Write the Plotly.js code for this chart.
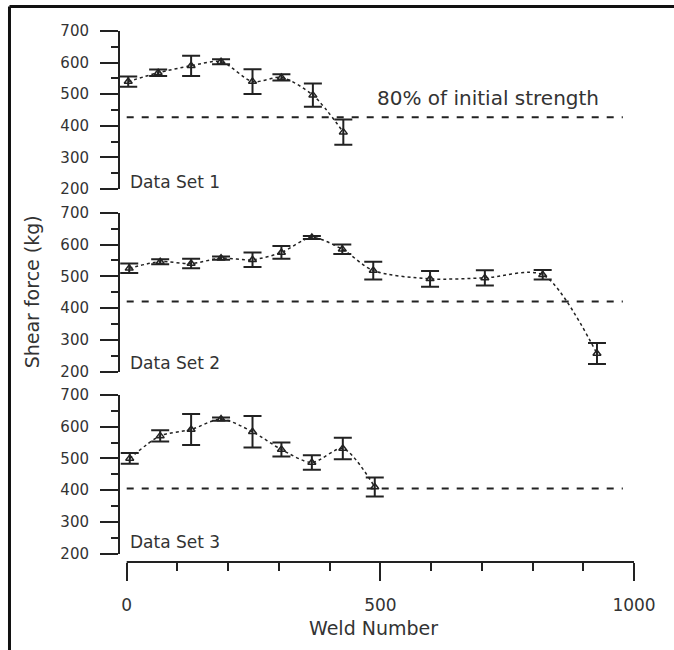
<!DOCTYPE html>
<html>
<head>
<meta charset="utf-8">
<script src="https://cdn.plot.ly/plotly-3.0.1.min.js"></script>
<style>html,body{margin:0;padding:0;background:#fff;}#chart{width:674px;height:650px;}</style>
</head>
<body>
<div id="chart"></div>
<script>
// Data Set 1
const x1 = [3, 62, 127, 186, 248, 305, 367, 427];
const y1 = [540, 568, 590, 603, 540, 553, 497, 380];
const e1 = [16, 10, 32, 8, 39, 10, 37, 40];
// Data Set 2
const x2 = [5, 66, 127, 186, 248, 305, 365, 425, 486, 598, 706, 820, 927];
const y2 = [525, 546, 540, 557, 552, 575, 622, 585, 518, 492, 495, 505, 257];
const e2 = [15, 8, 15, 5, 23, 20, 5, 15, 28, 25, 24, 15, 33];
// Data Set 3
const x3 = [6, 66, 127, 186, 248, 305, 365, 426, 489];
const y3 = [500, 571, 591, 624, 584, 528, 487, 531, 410];
const e3 = [17, 18, 49, 5, 50, 22, 23, 34, 30];
// 80% of initial strength thresholds
const thrX = [0, 978];
const thr = [427, 421, 405];
const setNames = ["Data Set 1", "Data Set 2", "Data Set 3"];
const yTicks = [200, 300, 400, 500, 600, 700];
const xTicks = [0, 500, 1000];

const FONT = "DejaVu Sans, Verdana, sans-serif";
const sets = [[x1, y1, e1], [x2, y2, e2], [x3, y3, e3]];
const yrefs = ["y", "y2", "y3"];
const traces = [];
sets.forEach((s, i) => {
  traces.push({
    x: s[0], y: s[1], xaxis: "x", yaxis: yrefs[i], type: "scatter", mode: "lines+markers",
    line: {shape: "spline", smoothing: 0.8, dash: "dot", width: 1.5, color: "#222"},
    marker: {symbol: "triangle-up-open", size: 7, color: "#222", line: {width: 1.5, color: "#222"}},
    error_y: {type: "data", array: s[2], visible: true, color: "#222", thickness: 2, width: 9},
    hoverinfo: "skip", showlegend: false
  });
  traces.push({
    x: thrX, y: [thr[i], thr[i]], xaxis: "x", yaxis: yrefs[i], type: "scatter", mode: "lines",
    line: {dash: "7px,8px", width: 2, color: "#222"}, hoverinfo: "skip", showlegend: false
  });
});

function yax(domain) {
  return {
    domain: domain, range: [200, 700], anchor: "x",
    tickvals: yTicks, ticktext: yTicks.map(String),
    ticks: "outside", ticklen: 18, tickwidth: 2, tickcolor: "#222",
    minor: {dtick: 50, tick0: 200, ticks: "outside", ticklen: 7, tickwidth: 2, tickcolor: "#222"},
    showline: true, linewidth: 2, linecolor: "#222",
    showgrid: false, zeroline: false, fixedrange: true,
    tickfont: {family: FONT, size: 15, color: "#333"}, ticklabelstandoff: 8
  };
}

const layout = {
  width: 674, height: 650,
  margin: {l: 120, r: 40, t: 31, b: 88},
  paper_bgcolor: "#fff", plot_bgcolor: "#fff",
  showlegend: false,
  xaxis: {
    domain: [0, 1], range: [-13.2, 1000], anchor: "free", position: 0,
    tickvals: xTicks, ticktext: xTicks.map(String),
    ticks: "outside", ticklen: 18, tickwidth: 2, tickcolor: "#222",
    minor: {dtick: 100, tick0: 0, ticks: "outside", ticklen: 8, tickwidth: 2, tickcolor: "#222"},
    showline: false, showgrid: false, zeroline: false, fixedrange: true,
    tickfont: {family: FONT, size: 17, color: "#333"}, ticklabelstandoff: 10
  },
  yaxis: yax([0.7024, 1.0]),
  yaxis2: yax([0.3584, 0.6578]),
  yaxis3: yax([0.0160, 0.3145]),
  shapes: [
    {type: "line", xref: "x", yref: "paper", x0: 0, x1: 1000, y0: 0, y1: 0, line: {color: "#222", width: 2}},
    {type: "line", xref: "paper", yref: "paper", x0: -0.2150, x1: -0.2150, y0: 1.046, y1: -0.2, line: {color: "#111", width: 3}},
    {type: "line", xref: "paper", yref: "paper", x0: -0.2150, x1: 1.2, y0: 1.046, y1: 1.046, line: {color: "#111", width: 3}}
  ],
  annotations: [
    {text: "80% of initial strength", x: 489, y: 488, xref: "x", yref: "y", xanchor: "left", yanchor: "middle",
     showarrow: false, font: {family: FONT, size: 20, color: "#333"}},
    {text: "Shear force (kg)", xref: "paper", yref: "paper", x: -0.171, y: 0.508, textangle: -90,
     xanchor: "center", yanchor: "middle",
     showarrow: false, font: {family: FONT, size: 19, color: "#333"}},
    {text: "Weld Number", xref: "x", yref: "paper", x: 486, y: -0.124, xanchor: "center", yanchor: "middle",
     showarrow: false, font: {family: FONT, size: 19, color: "#333"}}
  ].concat(setNames.map((t, i) => ({
    text: t, x: 3, y: [222, 227, 237][i], xref: "x", yref: yrefs[i], xanchor: "left", yanchor: "middle",
    showarrow: false, font: {family: FONT, size: 17, color: "#333"}
  })))
};

Plotly.newPlot("chart", traces, layout, {displayModeBar: false, staticPlot: true});
</script>
</body>
</html>
